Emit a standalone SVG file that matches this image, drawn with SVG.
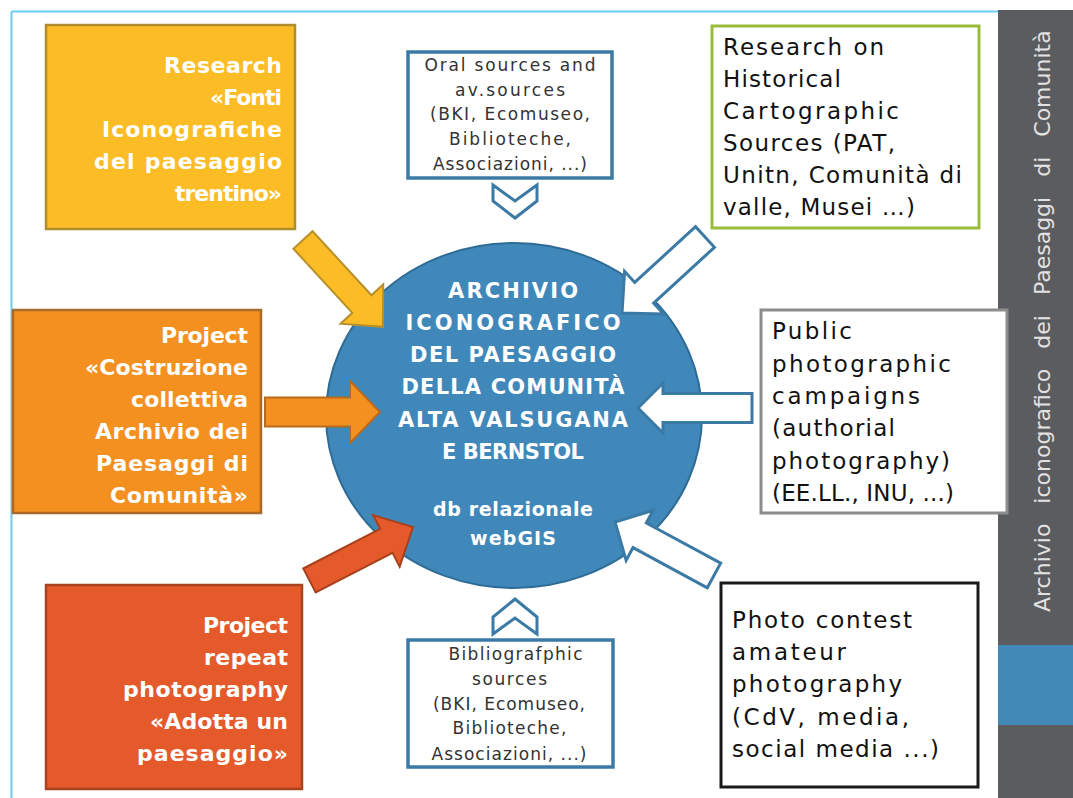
<svg xmlns="http://www.w3.org/2000/svg" width="1073" height="798" viewBox="0 0 1073 798">
<style>
.wb{font-family:"DejaVu Sans","Liberation Sans",sans-serif;font-weight:bold;fill:#FFFFFF;font-size:22px;text-anchor:end}
.ell{font-family:"DejaVu Sans","Liberation Sans",sans-serif;font-weight:bold;fill:#FFFFFF;font-size:21px;text-anchor:middle}
.bk{font-family:"DejaVu Sans","Liberation Sans",sans-serif;fill:#111111;font-size:23px}
.sm{font-family:"DejaVu Sans","Liberation Sans",sans-serif;fill:#333333;font-size:17px;text-anchor:middle}
.side{font-family:"DejaVu Sans","Liberation Sans",sans-serif;fill:#E2E2E2;font-size:22px}
.warrow{fill:#FFFFFF;stroke:#3C7AA6;stroke-width:3;stroke-linejoin:miter}
.sbox{fill:#FFFFFF;stroke:#3C7AA6;stroke-width:3.5}
</style>
<rect width="1073" height="798" fill="#FFFFFF"/>
<!-- frame -->
<line x1="11.5" y1="11.5" x2="999" y2="11.5" stroke="#6CCBF2" stroke-width="2"/>
<line x1="11.5" y1="11.5" x2="11.5" y2="798" stroke="#6CCBF2" stroke-width="2"/>
<!-- sidebar -->
<g id="sidebar">
<rect x="998" y="10" width="75" height="788" fill="#5B5C5F"/>
<rect x="998" y="645" width="75" height="80" fill="#4389B8"/>
<text class="side" transform="translate(1050,612) rotate(-90)" word-spacing="13">Archivio iconografico dei Paesaggi di Comunità</text>
</g>
<!-- center -->
<g id="archivio">
<ellipse cx="514" cy="415.5" rx="188" ry="172.5" fill="#4088BA" stroke="#2E6C96" stroke-width="2"/>
<text class="ell" x="513" y="298" textLength="130">ARCHIVIO</text>
<text class="ell" x="513" y="330" textLength="215">ICONOGRAFICO</text>
<text class="ell" x="513" y="362" textLength="206">DEL PAESAGGIO</text>
<text class="ell" x="513" y="394" textLength="223">DELLA COMUNITÀ</text>
<text class="ell" x="513" y="427" textLength="230">ALTA VALSUGANA</text>
<text class="ell" x="513" y="459" textLength="142">E BERNSTOL</text>
<text class="ell" x="513" y="516" style="font-size:19px" textLength="160">db relazionale</text>
<text class="ell" x="513" y="545" style="font-size:19px" textLength="86">webGIS</text>
</g>
<!-- connectors -->
<g id="connectors">
<polygon transform="translate(303,240) rotate(47.4)" points="0,-13 87,-13 87,-29 118,0 87,29 87,13 0,13" fill="#FBBC25" stroke="#B8902A" stroke-width="2"/>
<polygon transform="translate(265,412)" points="0,-14.5 85,-14.5 85,-31 115,0 85,31 85,14.5 0,14.5" fill="#F4901F" stroke="#B86A1E" stroke-width="2"/>
<polygon transform="translate(309.5,580.5) rotate(-27.3)" points="0,-13.5 86.5,-13.5 86.5,-29 116.5,0 86.5,29 86.5,13.5 0,13.5" fill="#E55A2B" stroke="#A8401C" stroke-width="2"/>
<polygon class="warrow" transform="translate(705,237) rotate(137.5)" points="0,-14 82.5,-14 82.5,-29 112.5,0 82.5,29 82.5,14 0,14"/>
<polygon class="warrow" transform="translate(752,408) rotate(180)" points="0,-14.5 89,-14.5 89,-25 114,0 89,25 89,14.5 0,14.5"/>
<polygon class="warrow" transform="translate(714,575.5) rotate(208.4)" points="0,-14 84.5,-14 84.5,-28.5 112.5,0 84.5,28.5 84.5,14 0,14"/>
<polygon class="warrow" points="493,185 515,201 537,185 537,201 515,218 493,201"/>
<polygon class="warrow" points="493,634 515,618 537,634 537,617 515,599 493,617"/>
</g>
<!-- left boxes -->
<g id="fonti">
<rect x="46" y="25" width="249" height="204" fill="#FBBC25" stroke="#B08D2C" stroke-width="2.5"/>
<text class="wb" x="282" y="73" textLength="118">Research</text>
<text class="wb" x="282" y="105" textLength="72">«Fonti</text>
<text class="wb" x="282" y="137" textLength="180">Iconografiche</text>
<text class="wb" x="282" y="169" textLength="188">del paesaggio</text>
<text class="wb" x="282" y="201" textLength="107">trentino»</text>
</g>
<g id="costruzione">
<rect x="13" y="310" width="248" height="203" fill="#F4901F" stroke="#A86A2A" stroke-width="2.5"/>
<text class="wb" x="248" y="343" textLength="87">Project</text>
<text class="wb" x="248" y="375" textLength="163">«Costruzione</text>
<text class="wb" x="248" y="407" textLength="117">collettiva</text>
<text class="wb" x="248" y="439" textLength="153">Archivio dei</text>
<text class="wb" x="248" y="471" textLength="152">Paesaggi di</text>
<text class="wb" x="248" y="503" textLength="138">Comunità»</text>
</g>
<g id="adotta">
<rect x="46" y="585" width="256" height="204" fill="#E55A2B" stroke="#A8431F" stroke-width="2.5"/>
<text class="wb" x="288" y="633" textLength="85">Project</text>
<text class="wb" x="288" y="665" textLength="84">repeat</text>
<text class="wb" x="288" y="697" textLength="165">photography</text>
<text class="wb" x="288" y="729" textLength="138">«Adotta un</text>
<text class="wb" x="288" y="761" textLength="151">paesaggio»</text>
</g>
<!-- center small boxes -->
<g id="oral">
<rect class="sbox" x="408" y="52" width="204" height="126"/>
<text class="sm" x="510" y="71" textLength="171">Oral sources and</text>
<text class="sm" x="510" y="96" textLength="110">av.sources</text>
<text class="sm" x="510" y="120" textLength="160">(BKI, Ecomuseo,</text>
<text class="sm" x="510" y="145" textLength="122">Biblioteche,</text>
<text class="sm" x="510" y="170" textLength="154">Associazioni, ...)</text>
</g>
<g id="biblio">
<rect class="sbox" x="408" y="640" width="205" height="127"/>
<text class="sm" x="515.5" y="660" textLength="134">Bibliografphic</text>
<text class="sm" x="509.5" y="685" textLength="75">sources</text>
<text class="sm" x="509" y="710" textLength="152">(BKI, Ecomuseo,</text>
<text class="sm" x="509.5" y="734" textLength="114">Biblioteche,</text>
<text class="sm" x="509" y="760" textLength="155">Associazioni, ...)</text>
</g>
<!-- right boxes -->
<g id="cartographic">
<rect x="712" y="26" width="267" height="202" fill="#FFFFFF" stroke="#9BBB3B" stroke-width="3"/>
<text class="bk" x="723" y="55" textLength="161">Research on</text>
<text class="bk" x="723" y="87" textLength="118">Historical</text>
<text class="bk" x="723" y="119" textLength="176">Cartographic</text>
<text class="bk" x="723" y="151" textLength="172">Sources (PAT,</text>
<text class="bk" x="723" y="183" textLength="239">Unitn, Comunità di</text>
<text class="bk" x="723" y="215" textLength="192">valle, Musei …)</text>
</g>
<g id="public">
<rect x="761" y="310" width="246" height="203" fill="#FFFFFF" stroke="#8C8C8C" stroke-width="3"/>
<text class="bk" x="772" y="339" textLength="80">Public</text>
<text class="bk" x="772" y="372" textLength="179">photographic</text>
<text class="bk" x="772" y="404" textLength="148">campaigns</text>
<text class="bk" x="772" y="436" textLength="123">(authorial</text>
<text class="bk" x="772" y="469" textLength="178">photography)</text>
<text class="bk" x="772" y="501" textLength="182">(EE.LL., INU, ...)</text>
</g>
<g id="contest">
<rect x="721" y="583" width="257" height="204" fill="#FFFFFF" stroke="#1A1A1A" stroke-width="3"/>
<text class="bk" x="732" y="628" textLength="180">Photo contest</text>
<text class="bk" x="732" y="660" textLength="114">amateur</text>
<text class="bk" x="732" y="692" textLength="170">photography</text>
<text class="bk" x="732" y="725" textLength="177">(CdV, media,</text>
<text class="bk" x="732" y="757" textLength="207">social media ...)</text>
</g>
</svg>
